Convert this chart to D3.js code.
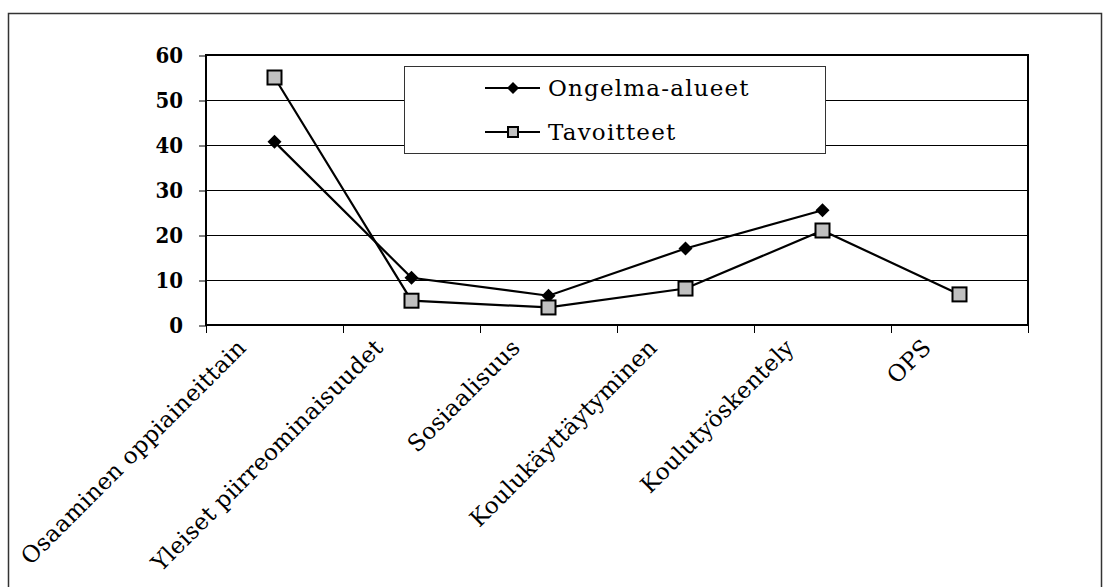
<!DOCTYPE html>
<html>
<head>
<meta charset="utf-8">
<script src="https://cdn.jsdelivr.net/npm/d3@7"></script>
<style>
  html, body { margin: 0; padding: 0; background: #fff; }
  svg { display: block; }
</style>
</head>
<body>
<svg id="chart" width="1103" height="587"></svg>
<script>
// Categories along the x axis
const categories = [
  "Osaaminen oppiaineittain",
  "Yleiset piirreominaisuudet",
  "Sosiaalisuus",
  "Koulukäyttäytyminen",
  "Koulutyöskentely",
  "OPS"
];
// Series values (null = no value for that category)
const ongelmaAlueet = [40.7, 10.5, 6.5, 17.0, 25.5, null];
const tavoitteet    = [55.0, 5.4, 3.9, 8.1, 21.0, 6.8];
// Series names and y-axis ticks
const seriesNames = ["Ongelma-alueet", "Tavoitteet"];
const yTicks = [0, 10, 20, 30, 40, 50, 60];

const svg = d3.select("#chart");
const W = 1103, H = 587;
const plot = { left: 206, top: 55, right: 1028, bottom: 325 };

// Outer chart frame
svg.append("rect")
  .attr("x", 8.5).attr("y", 13.5)
  .attr("width", W - 10).attr("height", H)
  .attr("fill", "#fff")
  .attr("stroke", "#333").attr("stroke-width", 1.5);

const x = d3.scaleBand()
  .domain(categories)
  .range([plot.left, plot.right])
  .paddingInner(0).paddingOuter(0);

const y = d3.scaleLinear()
  .domain([0, 60])
  .range([plot.bottom, plot.top]);

const serif = "'DejaVu Serif', 'Liberation Serif', serif";

// Horizontal gridlines
svg.append("g")
  .selectAll("line")
  .data(yTicks.filter(d => d > 0 && d < 60))
  .join("line")
  .attr("x1", plot.left).attr("x2", plot.right)
  .attr("y1", d => y(d) + 0.5).attr("y2", d => y(d) + 0.5)
  .attr("stroke", "#000").attr("stroke-width", 1);

// Y axis
const yAxis = svg.append("g")
  .attr("transform", `translate(${plot.left},0.5)`)
  .call(d3.axisLeft(y).tickValues(yTicks).tickSize(7).tickPadding(16).tickFormat(d3.format("d")));
yAxis.select(".domain").remove();
yAxis.selectAll(".tick line").attr("stroke", "#000").attr("stroke-width", 1);
yAxis.selectAll(".tick text")
  .attr("font-family", "'DejaVu Serif Condensed', 'DejaVu Serif', serif")
  .attr("font-weight", "bold")
  .attr("font-size", 22)
  .attr("fill", "#000");

// X axis: ticks between categories
const boundaries = categories.map(c => x(c)).concat([plot.right]);
svg.append("g")
  .selectAll("line")
  .data(boundaries)
  .join("line")
  .attr("x1", d => d + 0.5).attr("x2", d => d + 0.5)
  .attr("y1", plot.bottom).attr("y2", plot.bottom + 8)
  .attr("stroke", "#000").attr("stroke-width", 1);

// Rotated category labels
svg.append("g")
  .selectAll("text")
  .data(categories)
  .join("text")
  .attr("transform", d => `translate(${x(d) + x.bandwidth() / 2 - 27},${plot.bottom + 24}) rotate(-45)`)
  .attr("text-anchor", "end")
  .attr("font-family", serif)
  .attr("font-size", 23)
  .attr("letter-spacing", 0.3)
  .attr("fill", "#000")
  .text(d => d);

// Plot area border
svg.append("rect")
  .attr("x", plot.left).attr("y", plot.top)
  .attr("width", plot.right - plot.left).attr("height", plot.bottom - plot.top)
  .attr("fill", "none").attr("stroke", "#000").attr("stroke-width", 2);

const cx = i => x(categories[i]) + x.bandwidth() / 2;

const line = d3.line()
  .defined(d => d.v != null)
  .x(d => cx(d.i))
  .y(d => y(d.v));

const s1 = ongelmaAlueet.map((v, i) => ({ v, i }));
const s2 = tavoitteet.map((v, i) => ({ v, i }));

svg.append("path").datum(s1)
  .attr("d", line).attr("fill", "none")
  .attr("stroke", "#000").attr("stroke-width", 2.2);
svg.append("path").datum(s2)
  .attr("d", line).attr("fill", "none")
  .attr("stroke", "#000").attr("stroke-width", 2.2);

const diamond = r => `M0,${-r}L${r},0L0,${r}L${-r},0Z`;

// Diamond markers
svg.append("g")
  .selectAll("path")
  .data(s1.filter(d => d.v != null))
  .join("path")
  .attr("transform", d => `translate(${cx(d.i)},${y(d.v)})`)
  .attr("d", diamond(7))
  .attr("fill", "#000");

// Square markers
svg.append("g")
  .selectAll("rect")
  .data(s2.filter(d => d.v != null))
  .join("rect")
  .attr("x", d => cx(d.i) - 7).attr("y", d => y(d.v) - 7)
  .attr("width", 14).attr("height", 14)
  .attr("fill", "#c0c0c0")
  .attr("stroke", "#000").attr("stroke-width", 2);

// Legend
const lg = svg.append("g");
lg.append("rect")
  .attr("x", 404.5).attr("y", 66.5)
  .attr("width", 421).attr("height", 87)
  .attr("fill", "#fff").attr("stroke", "#333").attr("stroke-width", 1);

const rows = [88, 132];
seriesNames.forEach((name, k) => {
  const yy = rows[k];
  lg.append("line")
    .attr("x1", 485).attr("x2", 540)
    .attr("y1", yy).attr("y2", yy)
    .attr("stroke", "#000").attr("stroke-width", 2);
  if (k === 0) {
    lg.append("path")
      .attr("transform", `translate(513,${yy})`)
      .attr("d", diamond(6))
      .attr("fill", "#000");
  } else {
    lg.append("rect")
      .attr("x", 508).attr("y", yy - 5)
      .attr("width", 10).attr("height", 10)
      .attr("fill", "#c0c0c0")
      .attr("stroke", "#000").attr("stroke-width", 2);
  }
  lg.append("text")
    .attr("x", 548).attr("y", yy)
    .attr("dy", "0.36em")
    .attr("font-family", serif)
    .attr("font-size", 23)
    .attr("letter-spacing", 1.2)
    .attr("fill", "#000")
    .text(name);
});
</script>
</body>
</html>
